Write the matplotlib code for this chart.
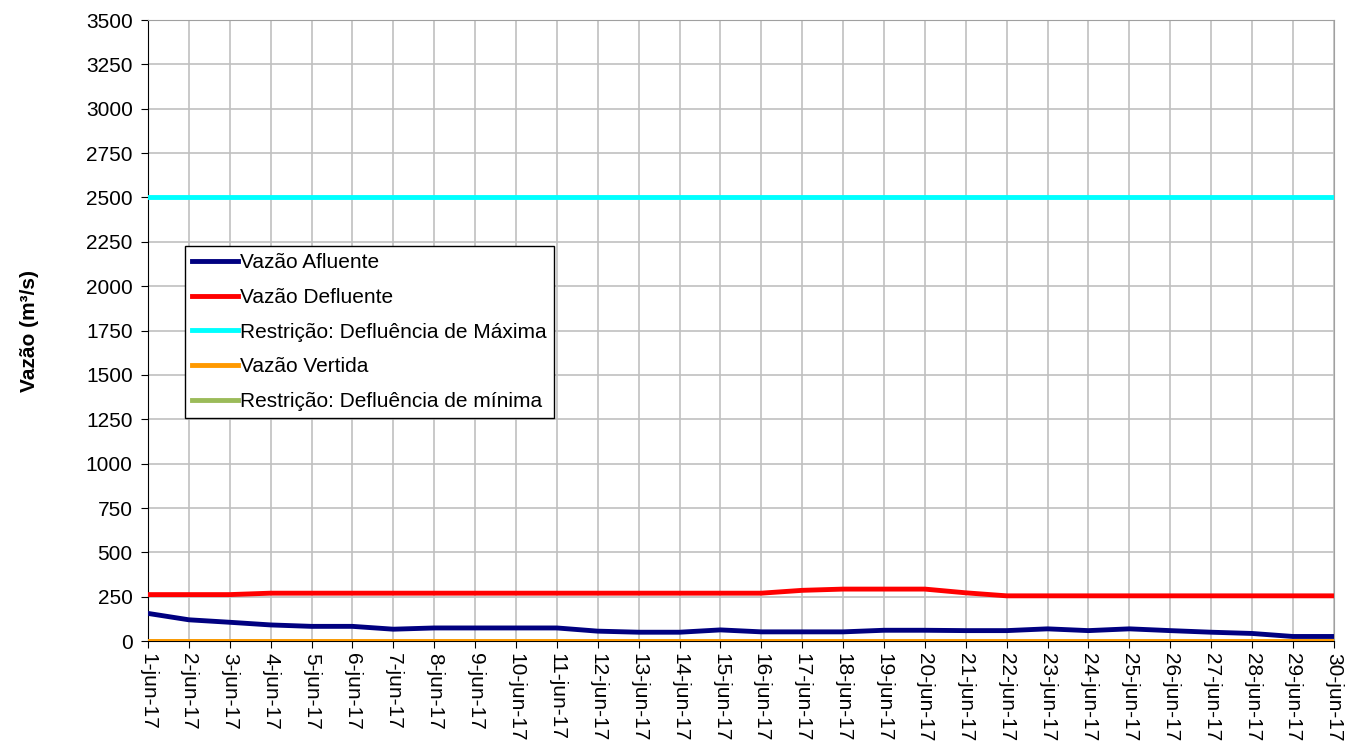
import matplotlib
matplotlib.use("Agg")
from matplotlib import pyplot as plt
import numpy as np

plt.rcParams['font.family'] = ['Liberation Sans', 'DejaVu Sans']

# Data
dias = ["%d-jun-17" % d for d in range(1, 31)]
afluente = [156, 120, 106, 91, 83, 83, 67, 74, 74, 74,
            74, 56, 50, 50, 63, 52, 52, 52, 61, 61,
            59, 59, 69, 59, 69, 59, 50, 43, 26, 26]
defluente = [262, 262, 262, 270, 270, 270, 270, 270, 270, 270,
             270, 270, 270, 270, 270, 270, 286, 293, 293, 293,
             272, 255, 255, 255, 255, 255, 255, 255, 255, 255]
restr_max = [2500] * 30
vertida = [0] * 30
restr_min = [0] * 30

x = np.arange(len(dias))

fig = plt.figure(figsize=(13.5, 7.56), dpi=100)
ax = fig.add_axes([0.1096, 0.152, 0.8784, 0.8215])

ax.plot(x, afluente, color="#000080", linewidth=3.5, label="Vazão Afluente", zorder=5)
ax.plot(x, defluente, color="#ff0000", linewidth=3.5, label="Vazão Defluente", zorder=5)
ax.plot(x, restr_max, color="#00ffff", linewidth=3.5, label="Restrição: Defluência de Máxima", zorder=5)
ax.plot(x, vertida, color="#ff9900", linewidth=3.5, label="Vazão Vertida", zorder=6)
ax.plot(x, restr_min, color="#9bbb59", linewidth=3.5, label="Restrição: Defluência de mínima", zorder=4)

ax.set_xlim(0, len(dias) - 1)
ax.set_ylim(0, 3500)
ax.set_yticks(np.arange(0, 3501, 250))
ax.set_xticks(x)
ax.set_xticklabels(dias, rotation=-90, fontsize=15)
ax.tick_params(axis='y', labelsize=15, pad=6)
ax.tick_params(direction='out', length=5, color='black')

ax.grid(True, color="#c0c0c0", linewidth=1.2)
ax.set_axisbelow(True)
for s in ['top', 'right']:
    ax.spines[s].set_color("#a0a0a0")
ax.spines['left'].set_color('black')
ax.spines['bottom'].set_color('black')

ax.set_ylabel("Vazão (m³/s)", fontsize=15, fontweight='bold', labelpad=34)

leg = ax.legend(loc='upper left', bbox_to_anchor=(0.031, 0.636), fontsize=15,
                handlelength=2.2, handletextpad=0.1, labelspacing=0.75,
                fancybox=False, framealpha=1, borderpad=0.35, borderaxespad=0)
leg.get_frame().set_edgecolor('black')
leg.get_frame().set_linewidth(1.0)

plt.savefig("out.png", dpi=100)
